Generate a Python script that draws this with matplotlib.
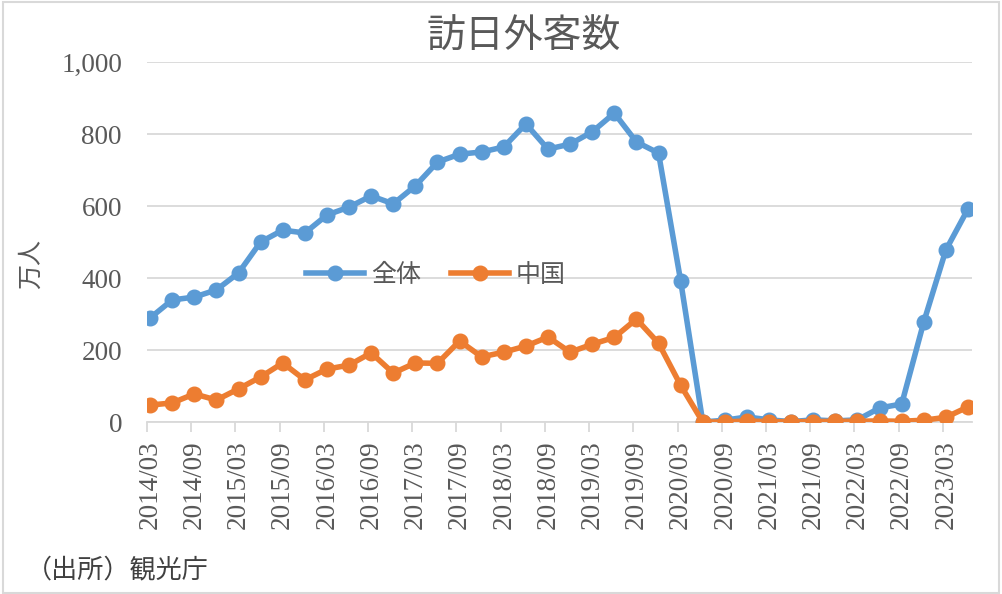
import numpy as np
import matplotlib.pyplot as plt
from matplotlib.patches import Rectangle

# quarterly, 2014/03 .. 2023/06 (万人)
quarters = []
for y in range(2014, 2024):
    for m in ("03", "06", "09", "12"):
        quarters.append(f"{y}/{m}")
quarters = quarters[:38]

total = [289, 339, 347, 367, 414, 500, 533, 525, 575, 597, 628, 606,
         656, 722, 744, 750, 764, 828, 758, 772, 806, 858, 778, 747,
         392, 0, 5, 14, 6, 1, 6, 3, 6, 39, 50, 278, 478, 592]
china = [47, 53, 78, 61, 92, 125, 164, 117, 147, 158, 192, 136,
         164, 163, 225, 181, 194, 211, 236, 194, 216, 235, 286, 219,
         102, 0, 0, 3, 1, 1, 1, 2, 2, 3, 2, 5, 13, 42]

blue = "#5B9BD5"
orange = "#ED7D31"
txt = "#595959"
jp = ["Noto Sans CJK JP", "DejaVu Sans"]
num = "Liberation Serif"

fig = plt.figure(figsize=(10.02, 5.94), dpi=100)
fig.patches.append(Rectangle((0.003, 0.002), 0.994, 0.995, transform=fig.transFigure,
                             fill=False, edgecolor="#d9d9d9", lw=1.5))
ax = fig.add_axes([147/1002, (594-422)/594, 825/1002, 360/594])

x = np.arange(len(quarters))
ax.plot(x, total, color=blue, lw=4, marker="o", ms=10.5, label="全体", zorder=3)
ax.plot(x, china, color=orange, lw=4, marker="o", ms=10.5, label="中国", zorder=4)

ax.set_ylim(0, 1000)
ax.set_xlim(-0.14, len(quarters) - 1 + 0.18)
ax.set_yticks(np.arange(0, 1001, 200))
ax.set_yticklabels([f"{v:,}" for v in range(0, 1001, 200)], fontfamily=num,
                   fontsize=19.5, color=txt)
ax.grid(axis="y", color="#d9d9d9", lw=1.3)
ax.set_axisbelow(True)

# ticks on the boundaries, labels under the points
ax.set_xticks(x[::2] - 0.14)
ax.set_xticklabels([])
ax.tick_params(axis="x", which="major", length=7, width=1.3, color="#d9d9d9")
ax.set_xticks(x[::2], minor=True)
ax.set_xticklabels(quarters[::2], minor=True, rotation=90, fontfamily=num,
                   fontsize=19.5, color=txt)
ax.tick_params(axis="x", which="minor", length=0, pad=13)
ax.tick_params(axis="y", length=0, pad=18)

for s in ("top", "right", "left"):
    ax.spines[s].set_visible(False)
ax.spines["bottom"].set_color("#d9d9d9")
ax.spines["bottom"].set_linewidth(1.3)

ax.set_ylabel("万人", fontfamily=jp, fontsize=18, color=txt)
ax.yaxis.set_label_coords(-0.125, 0.44)

leg = ax.legend(loc="center", bbox_to_anchor=(436/1002, 1 - 275/594),
                bbox_transform=fig.transFigure, ncol=2, frameon=False,
                prop={"family": jp, "size": 18}, handlelength=2.3,
                columnspacing=1.2, handletextpad=0.3)
for t in leg.get_texts():
    t.set_color(txt)

fig.text(524/1002, 1 - 37/594, "訪日外客数", ha="center", va="center",
         fontfamily=jp, fontsize=28, color=txt)
fig.text(26/1002, 1 - 570/594, "（出所）観光庁", ha="left", va="center",
         fontfamily=jp, fontsize=18.8, color="#404040")

fig.savefig("out.png", dpi=100)
